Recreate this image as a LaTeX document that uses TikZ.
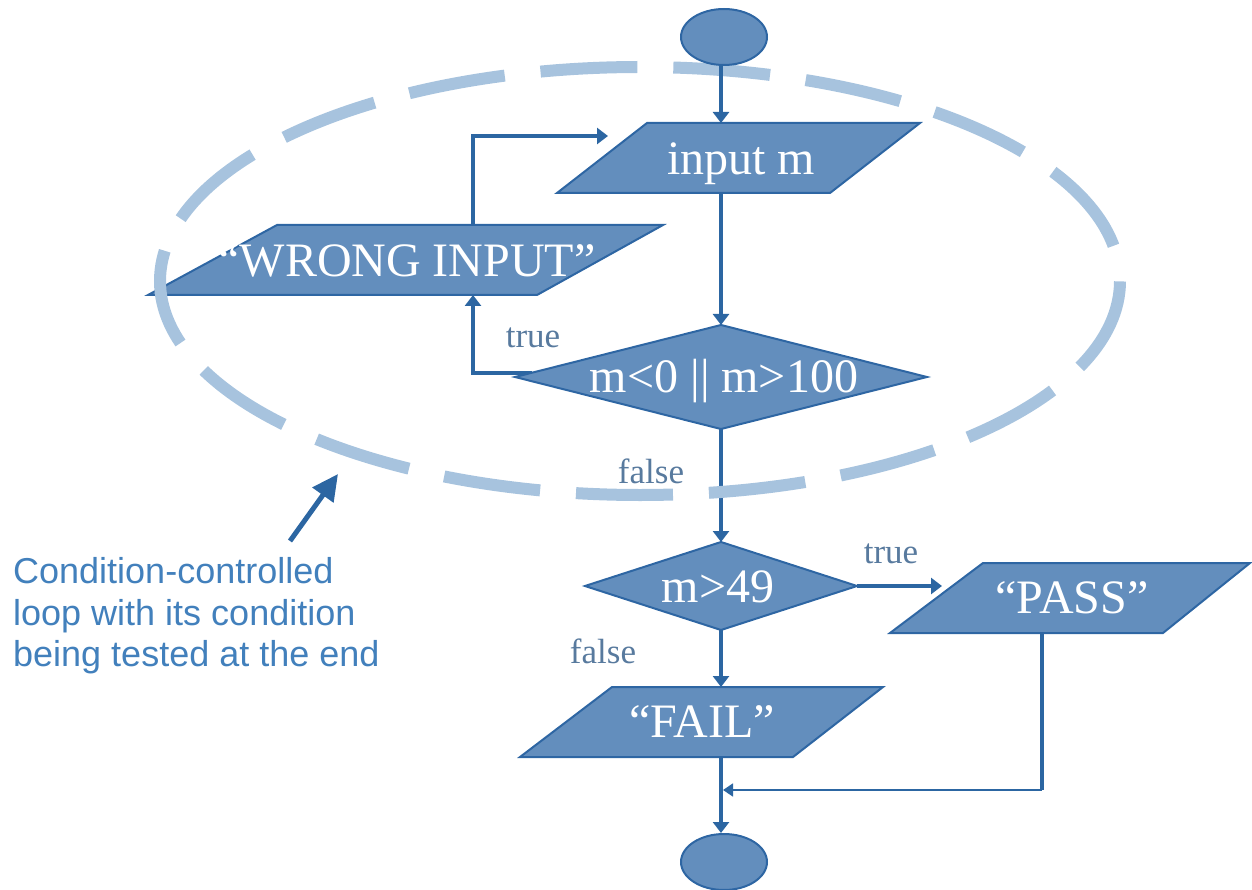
\documentclass[tikz,border=0pt]{standalone}
\usepackage{fontspec}
\setmainfont{Liberation Serif}
\newfontfamily\annfont{Liberation Sans}
\usetikzlibrary{arrows.meta,shapes.geometric}

\definecolor{boxfill}{RGB}{99,142,189}
\definecolor{boxline}{RGB}{46,102,163}
\definecolor{flow}{RGB}{44,102,162}
\definecolor{loopring}{RGB}{167,195,222}
\definecolor{branch}{RGB}{88,122,158}
\definecolor{note}{RGB}{66,128,188}

\tikzset{
  shapebox/.style={fill=boxfill, draw=boxline, line width=2pt, line join=miter},
  terminal/.style={ellipse, fill=boxfill, draw=boxline, line width=2pt,
    minimum width=86pt, minimum height=56pt, inner sep=0pt},
  boxtext/.style={text=white, font=\fontsize{48}{52}\selectfont, inner sep=0pt, anchor=base},
  branchlabel/.style={text=branch, font=\fontsize{35}{40}\selectfont, inner sep=0pt, anchor=base},
  flowline/.style={draw=flow, line width=3.2pt, -{Triangle[length=11pt,width=16pt]}},
  thinflow/.style={draw=flow, line width=1.6pt, -{Triangle[length=10pt,width=13pt]}},
  plainline/.style={draw=flow, line width=3.2pt},
  notearrow/.style={draw=flow, line width=5pt, -{Triangle[length=26pt,width=25pt]}},
  notetext/.style={text=note, font=\annfont\fontsize{36}{41}\selectfont, inner sep=0pt, anchor=base west},
  ring/.style={draw=loopring, line width=12pt, dash pattern=on 97pt off 36pt, dash phase=97pt},
}

\begin{document}
\begin{tikzpicture}[x=1pt,y=-1pt]
\useasboundingbox (0,0) rectangle (1252,890);

% connection points on the shapes
\coordinate (inputm-n) at (721,123);
\coordinate (inputm-s) at (721,193);
\coordinate (inputm-w) at (608,136);
\coordinate (wrong-n) at (473,225);
\coordinate (wrong-s) at (473,295);
\coordinate (cond1-n) at (721,325);
\coordinate (cond1-s) at (721,429);
\coordinate (cond1-w) at (532,373);
\coordinate (cond2-n) at (721,542);
\coordinate (cond2-s) at (721,630);
\coordinate (cond2-e) at (857,586);
\coordinate (pass-w) at (942,586);
\coordinate (pass-s) at (1042,633);
\coordinate (pass-corner) at (1042,790);
\coordinate (merge) at (723,790);
\coordinate (fail-n) at (721,687);
\coordinate (fail-s) at (721,757);
\coordinate (notetail) at (290,541);
\coordinate (notehead) at (338,474);

% connectors (drawn first so the shapes cover their roots)
\draw[flowline] (inputm-s) -- (cond1-n);
\draw[flowline] (cond1-w) -| (wrong-s);
\draw[flowline] (wrong-n) |- (inputm-w);
\draw[flowline] (cond1-s) -- (cond2-n);
\draw[flowline] (cond2-e) -- (pass-w);
\draw[flowline] (cond2-s) -- (fail-n);
\draw[plainline] (pass-s) -- (pass-corner);
\draw[thinflow] (pass-corner) -- (merge);

% input / output boxes
\draw[shapebox] (647,123) -- (920,123) -- (830,193) -- (557,193) -- cycle;
\node[boxtext] (inputm) at (741,175) {input m};

\draw[shapebox] (277,225) -- (663,225) -- (537,295) -- (148,295) -- cycle;
\node[boxtext] (wrong) at (407,277) {“WRONG INPUT”};

\draw[shapebox] (983,563) -- (1250,563) -- (1163,633) -- (890,633) -- cycle;
\node[boxtext] (pass) at (1072,613) {“PASS”};

\draw[shapebox] (612,687) -- (883,687) -- (793,757) -- (520,757) -- cycle;
\node[boxtext] (fail) at (702,737) {“FAIL”};

% decisions
\draw[shapebox] (515,377) -- (721,325) -- (927,377) -- (721,429) -- cycle;
\node[boxtext] (cond1) at (724,392) {m<0 || m>100};

\draw[shapebox] (585,586) -- (721,542) -- (857,586) -- (721,630) -- cycle;
\node[boxtext] (cond2) at (718,602) {m>49};

% branch labels
\node[branchlabel] (true1) at (533,347) {true};
\node[branchlabel] (false1) at (651,483) {false};
\node[branchlabel] (true2) at (891,563) {true};
\node[branchlabel] (false2) at (603,663) {false};

% the loop region
\draw[ring] (640,281) ellipse [x radius=480pt, y radius=214pt];

% terminals
\node[terminal] (start) at (724,37) {};
\node[terminal] (stop) at (724,862) {};
\draw[flowline] (start.south -| inputm-n) -- (inputm-n);
\draw[flowline] (fail-s) -- (fail-s |- stop.north);

% annotation
\draw[notearrow] (notetail) -- (notehead);
\node[notetext] (note1) at (13,583) {Condition-controlled};
\node[notetext] (note2) at (13,625) {loop with its condition};
\node[notetext] (note3) at (13,666) {being tested at the end};
\end{tikzpicture}
\end{document}
